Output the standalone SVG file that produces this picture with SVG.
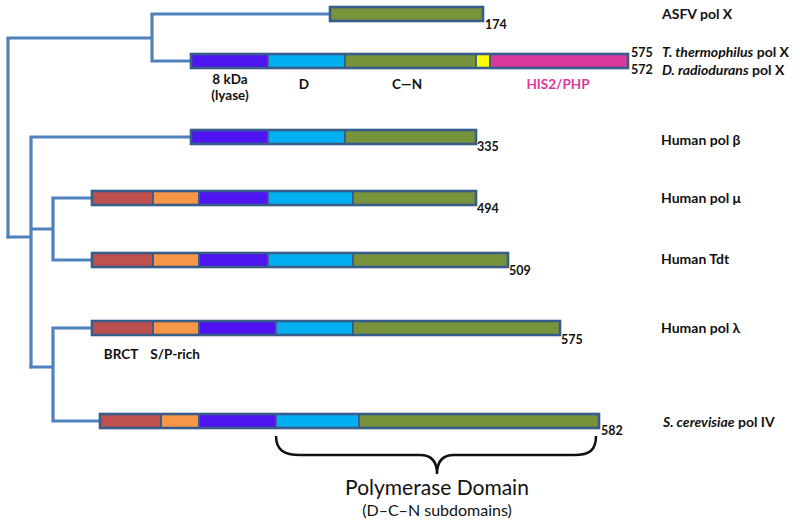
<svg xmlns="http://www.w3.org/2000/svg" width="800" height="526" viewBox="0 0 800 526">
<style>
.tree{fill:none;stroke:#4f81bd;stroke-width:3.2;stroke-linecap:square}
.seg{stroke:#385d8a;stroke-width:1.8}
.out{fill:none;stroke:#385d8a;stroke-width:2.6}
.r{fill:#c0504d}.o{fill:#f79646}.p{fill:#4f14f2}.b{fill:#00b0f0}.g{fill:#77933c}.y{fill:#ffff00}.m{fill:#d9399a}
.num{font-family:Lato,"Liberation Sans",sans-serif;font-weight:bold;font-size:12.5px;fill:#111}
.lab{font-family:Lato,"Liberation Sans",sans-serif;font-weight:bold;font-size:14px;fill:#111}
.dl{font-family:Lato,"Liberation Sans",sans-serif;font-weight:bold;font-size:13.5px;fill:#111;text-anchor:middle}
.big{font-family:Lato,"Liberation Sans",sans-serif;fill:#111;text-anchor:middle}
</style>
<rect width="800" height="526" fill="#ffffff"/>
<g id="connectors">
<path class="tree" d="M8,237 V38 H152 M152,14 V61 M152,14 H330 M152,61 H191"/>
<path class="tree" d="M8,237 H31 M31,137 V367 M31,137 H191 M31,229 H53 M53,198 V260 M53,198 H92 M53,260 H92"/>
<path class="tree" d="M31,367 H53 M53,328 V421 M53,328 H92 M53,421 H100"/>
</g>
<g id="asfv">
<rect class="g seg" x="330" y="7" width="153" height="14"/>
<rect class="out" x="330" y="7" width="153" height="14"/>
<text class="num" x="485" y="29">174</text>
<text class="lab" x="662" y="19">ASFV pol X</text>
</g>
<g id="tthermo">
<rect class="p seg" x="191" y="54" width="77" height="14"/>
<rect class="b seg" x="268" y="54" width="77" height="14"/>
<rect class="g seg" x="345" y="54" width="131" height="14"/>
<rect class="y seg" x="476" y="54" width="14" height="14"/>
<rect class="m seg" x="490" y="54" width="138" height="14"/>
<rect class="out" x="191" y="54" width="437" height="14"/>
<text class="num" x="631" y="57">575</text>
<text class="num" x="631" y="74">572</text>
<text class="lab" x="662" y="57"><tspan font-style="italic">T. thermophilus</tspan> pol X</text>
<text class="lab" x="662" y="75"><tspan font-style="italic">D. radiodurans</tspan> pol X</text>
<text class="dl" x="230" y="84">8 kDa</text>
<text class="dl" x="230" y="100">(lyase)</text>
<text class="dl" x="304" y="89">D</text>
<text class="dl" x="407" y="89">C—N</text>
<text class="dl" x="558" y="89" style="fill:#d9399a">HIS2/PHP</text>
</g>
<g id="polb">
<rect class="p seg" x="191" y="130" width="77" height="14"/>
<rect class="b seg" x="268" y="130" width="77" height="14"/>
<rect class="g seg" x="345" y="130" width="131" height="14"/>
<rect class="out" x="191" y="130" width="285" height="14"/>
<text class="num" x="477" y="151">335</text>
<text class="lab" x="661" y="145">Human pol β</text>
</g>
<g id="polmu">
<rect class="r seg" x="92" y="191" width="61" height="14"/>
<rect class="o seg" x="153" y="191" width="46" height="14"/>
<rect class="p seg" x="199" y="191" width="69" height="14"/>
<rect class="b seg" x="268" y="191" width="85" height="14"/>
<rect class="g seg" x="353" y="191" width="123" height="14"/>
<rect class="out" x="92" y="191" width="384" height="14"/>
<text class="num" x="477" y="213">494</text>
<text class="lab" x="661" y="203">Human pol μ</text>
</g>
<g id="tdt">
<rect class="r seg" x="92" y="253" width="61" height="14"/>
<rect class="o seg" x="153" y="253" width="46" height="14"/>
<rect class="p seg" x="199" y="253" width="69" height="14"/>
<rect class="b seg" x="268" y="253" width="85" height="14"/>
<rect class="g seg" x="353" y="253" width="155" height="14"/>
<rect class="out" x="92" y="253" width="416" height="14"/>
<text class="num" x="509" y="275">509</text>
<text class="lab" x="661" y="264">Human Tdt</text>
</g>
<g id="pollambda">
<rect class="r seg" x="92" y="321" width="61" height="14"/>
<rect class="o seg" x="153" y="321" width="46" height="14"/>
<rect class="p seg" x="199" y="321" width="77" height="14"/>
<rect class="b seg" x="276" y="321" width="77" height="14"/>
<rect class="g seg" x="353" y="321" width="207" height="14"/>
<rect class="out" x="92" y="321" width="468" height="14"/>
<text class="num" x="561" y="344">575</text>
<text class="lab" x="661" y="333">Human pol λ</text>
<text class="dl" x="121" y="359">BRCT</text>
<text class="dl" x="175" y="359">S/P-rich</text>
</g>
<g id="scerevisiae">
<rect class="r seg" x="100" y="414" width="61" height="14"/>
<rect class="o seg" x="161" y="414" width="38" height="14"/>
<rect class="p seg" x="199" y="414" width="77" height="14"/>
<rect class="b seg" x="276" y="414" width="83" height="14"/>
<rect class="g seg" x="359" y="414" width="240" height="14"/>
<rect class="out" x="100" y="414" width="499" height="14"/>
<text class="num" x="601" y="435">582</text>
<text class="lab" x="663" y="427"><tspan font-style="italic">S. cerevisiae</tspan> pol IV</text>
</g>
<g id="polymerase-domain">
<path d="M276,436 C276,450 284,455 300,455 L420,455 C432,455 437,462 437,474 C437,462 442,455 454,455 L574,455 C590,455 596,450 596,436" fill="none" stroke="#111" stroke-width="2.5"/>
<text class="big" x="437" y="495" font-size="21">Polymerase Domain</text>
<text class="big" x="437" y="516" font-size="16">(D–C–N subdomains)</text>
</g>
</svg>
